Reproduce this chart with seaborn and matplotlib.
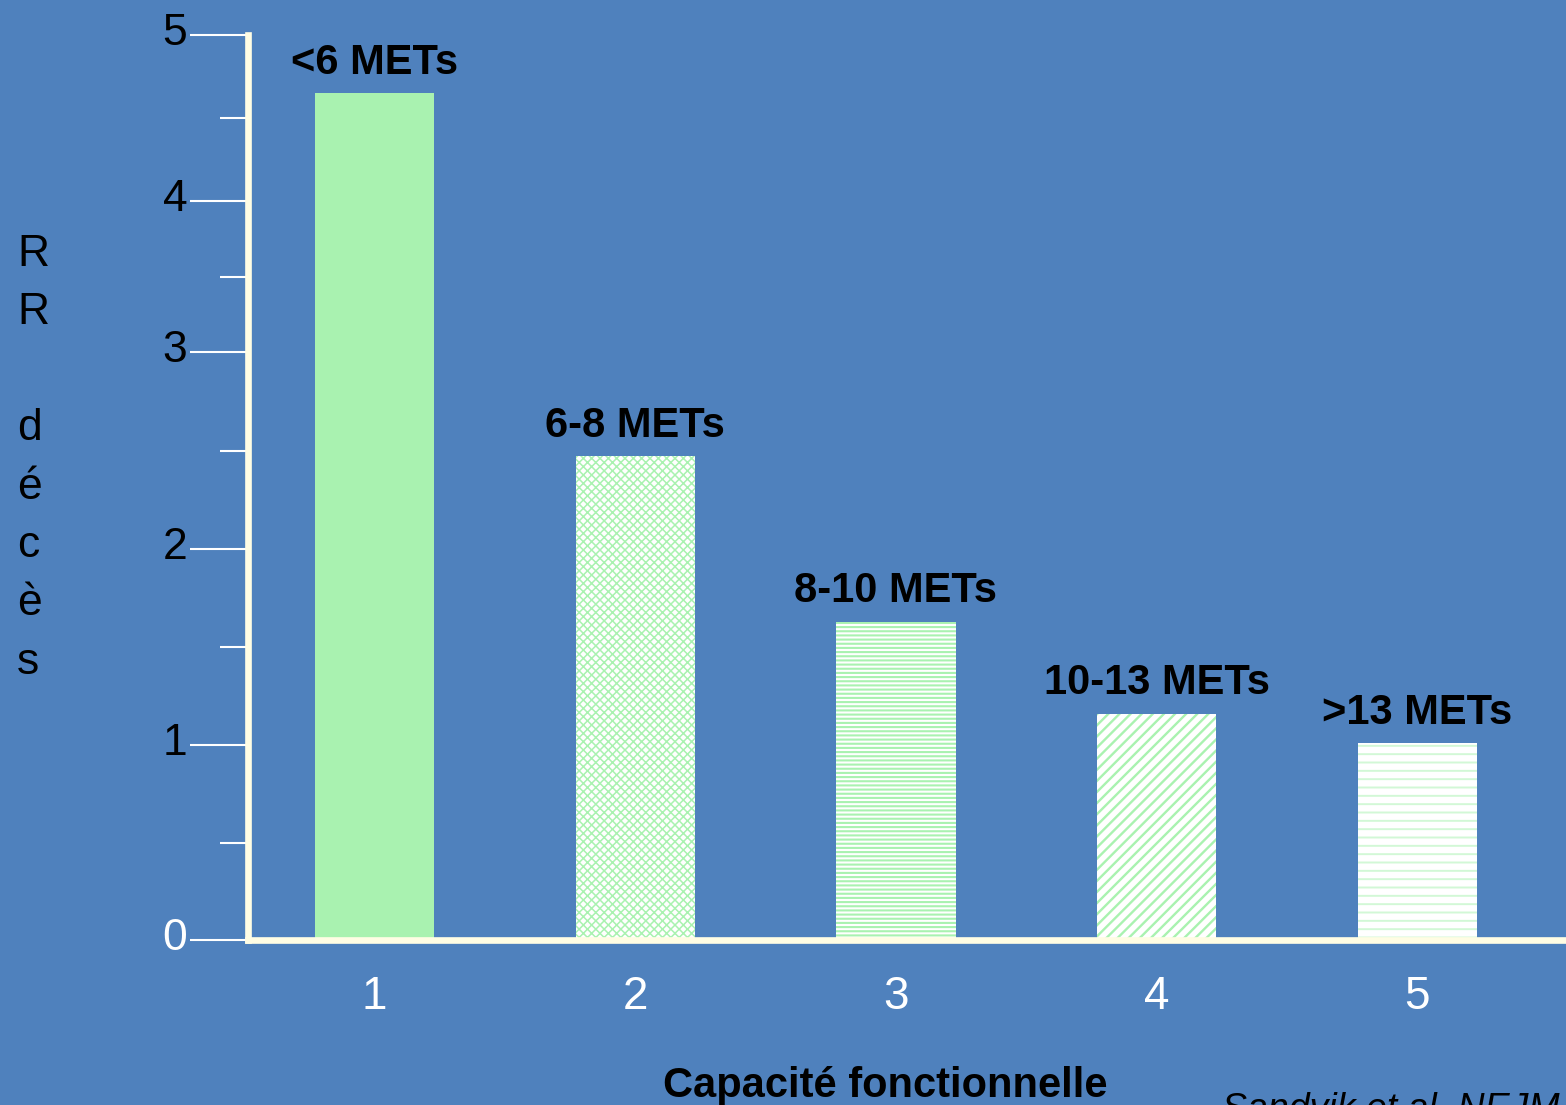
import numpy as np
import pandas as pd
import matplotlib
matplotlib.use("Agg")
import matplotlib.pyplot as plt
import matplotlib.transforms as mtransforms
from matplotlib.ticker import FixedLocator
import seaborn as sns

# ---- data -------------------------------------------------------------
categories = ["1", "2", "3", "4", "5"]
met_labels = ["<6 METs", "6-8 METs", "8-10 METs", "10-13 METs", ">13 METs"]
relative_risk = [4.65, 2.47, 1.63, 1.16, 1.01]
y_ticks = [0, 1, 2, 3, 4, 5]

# ---- style ------------------------------------------------------------
BG = "#4F81BD"
GREEN = "#A9F2B0"
CREAM = "#FFFDE4"

sns.set_style("white", {"axes.facecolor": BG, "figure.facecolor": BG})
plt.rcParams["font.family"] = ["Liberation Sans", "DejaVu Sans"]
plt.rcParams["hatch.linewidth"] = 1.4

# hand-drawn axis: gridline spacing of the original slide (axis fraction)
tick_frac = np.array([0.0, 0.2155, 0.4320, 0.6497, 0.8166, 1.0]) * 5


def fwd(v):
    return np.interp(v, y_ticks, tick_frac)


def inv(w):
    return np.interp(w, tick_frac, y_ticks)


fig = plt.figure(figsize=(15.66, 11.05), dpi=100, facecolor=BG)
ax = fig.add_axes([0.1584, 0.1493, 0.8416, 0.8190])
ax.set_facecolor(BG)

df = pd.DataFrame({"capacite": categories, "rr": relative_risk})
sns.barplot(data=df, x="capacite", y="rr", color=GREEN, saturation=1,
            width=0.457, linewidth=0, ax=ax)

ax.set_yscale("function", functions=(fwd, inv))
ax.set_ylim(0, 5)
ax.set_xlim(-0.485, 4.57)

# bar fills: solid, cross-hatch, horizontal lines, diagonals, dashed rows
fills = [
    dict(face=GREEN, hatch=None, hcol=GREEN, hlw=1.4),
    dict(face="white", hatch="xxxx", hcol=GREEN, hlw=1.1),
    dict(face="white", hatch="----", hcol=GREEN, hlw=1.5),
    dict(face="white", hatch="///", hcol=GREEN, hlw=1.7),
    dict(face="white", hatch="--", hcol="#D2F8D6", hlw=1.4),
]
for patch, f in zip(ax.patches, fills):
    patch.set_facecolor(f["face"])
    patch.set_edgecolor(f["hcol"])
    patch.set_linewidth(0)
    if f["hatch"]:
        patch.set_hatch(f["hatch"])
        if hasattr(patch, "set_hatch_linewidth"):
            patch.set_hatch_linewidth(f["hlw"])

# category labels above bars
for i, (lab, v) in enumerate(zip(met_labels, relative_risk)):
    ax.annotate(lab, xy=(i, v), xytext=(0, 14), textcoords="offset points",
                ha="center", va="baseline", fontsize=30, fontweight="bold",
                color="black")

# spines
for side in ("top", "right"):
    ax.spines[side].set_visible(False)
for side in ("left", "bottom"):
    ax.spines[side].set_color(CREAM)
    ax.spines[side].set_linewidth(4.8)
ax.spines["left"].set_bounds(0, 5)

# ticks
ax.set_yticks(y_ticks, labels=[str(t) for t in y_ticks])
ax.yaxis.set_minor_locator(FixedLocator(np.array(y_ticks[:-1]) + 0.5))
ax.tick_params(axis="y", which="major", length=41.8, width=1.5, color="white",
               direction="out", pad=2, labelsize=32, labelcolor="black", left=True)
ax.tick_params(axis="y", which="minor", length=20, width=1.5, color="white",
               direction="out", left=True)
ax.tick_params(axis="x", length=0, pad=25, labelsize=33, labelcolor="white")
for lab in ax.get_xticklabels():
    lab.set_fontfamily(["Liberation Sans Narrow", "Liberation Sans", "DejaVu Sans"])

shift = mtransforms.ScaledTranslation(0, 6 / 100, fig.dpi_scale_trans)
for lab in ax.get_yticklabels():
    lab.set_transform(lab.get_transform() + shift)
ax.get_yticklabels()[0].set_color("white")

# axis titles
ax.set_xlabel("Capacité fonctionnelle", fontsize=30, fontweight="bold",
              color="black", va="baseline")
ax.xaxis.set_label_coords(0.4833, -0.1735)
ax.set_ylabel("R\nR\n\nd\né\nc\nè\ns", rotation=0, fontsize=32, color="black",
              ha="left", va="center", multialignment="left", linespacing=1.54)
ax.yaxis.set_label_coords(-0.1753, 0.5326)

# source note
fig.text(1222 / 1566, -0.0136, "Sandvik et al. NEJM", fontsize=27,
         fontstyle="italic", color="black", ha="left", va="baseline")

fig.savefig("out.png", dpi=100, facecolor=BG)
